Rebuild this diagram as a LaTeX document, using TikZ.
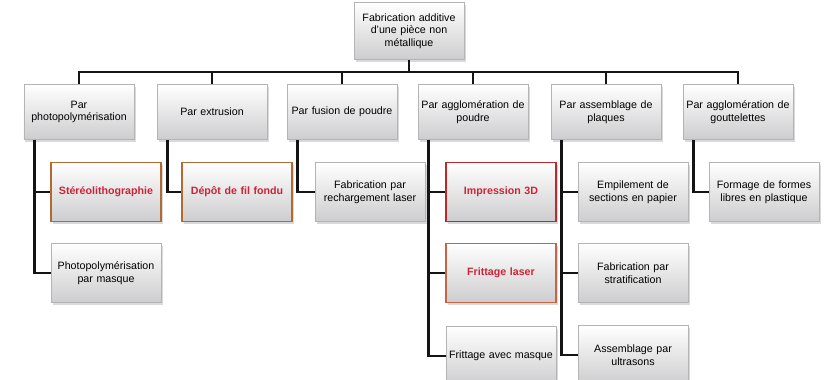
\documentclass[tikz,border=0pt]{standalone}
\usepackage{fontspec}
\setmainfont{Liberation Sans}
\usepackage{tikz}
\usetikzlibrary{positioning, shadows, calc}
\definecolor{myline}{RGB}{20,20,20}
\definecolor{myborder}{RGB}{180,180,180}
\definecolor{mybrown}{RGB}{176,106,50}
\definecolor{myred}{RGB}{190,40,45}
\definecolor{myorange}{RGB}{200,100,70}
\definecolor{mytext}{RGB}{205,35,55}
\definecolor{mygray}{RGB}{205,205,207}
\tikzset{
  block/.style={rectangle, draw=myborder, top color=white, bottom color=mygray,
    text width=104bp, align=center, minimum width=110bp, minimum height=57bp,
    inner xsep=3bp, font=\fontsize{10.7}{12.8}\selectfont, line width=0.6pt,
    drop shadow={shadow xshift=1.5bp, shadow yshift=-2bp, opacity=0.3}},
  hlblock/.style={block, draw=mybrown, line width=1.6pt, text=mytext,
    font=\fontsize{10.7}{12.8}\selectfont\bfseries},
  link/.style={line width=2.5bp, color=myline}
}

\begin{document}
\begin{tikzpicture}[x=1bp, y=-1bp]
  \clip (0,0) rectangle (825,379);

  % Root
  \node[block] (root) at (409,31) {Fabrication additive\\d’une pièce non\\métallique};

  % Level 1
  \node[block, minimum height=55bp] (photo) at (79,112) {Par\\photopolymérisation};
  \node[block, minimum height=55bp] (extr) at (212,112) {Par extrusion};
  \node[block, minimum height=55bp] (fusion) at (342,112) {Par fusion de poudre};
  \node[block, minimum height=55bp] (aggpoudre) at (473,112) {Par agglomération de\\poudre};
  \node[block, minimum height=55bp] (plaques) at (606,112) {Par assemblage de\\plaques};
  \node[block, minimum height=55bp] (gouttes) at (738,112) {Par agglomération de\\gouttelettes};

  % Level 2
  \node[hlblock, minimum height=59bp] (stereo) at (106,192) {Stéréolithographie};
  \node[block, minimum height=59bp] (pmasque) at (106,273) {Photopolymérisation\\par masque};
  \node[hlblock, minimum height=59bp] (depot) at (237,192) {Dépôt de fil fondu};
  \node[block, minimum height=59bp] (recharg) at (370,192) {Fabrication par\\rechargement laser};
  \node[hlblock, draw=myred, minimum height=59bp] (impr) at (501,192) {Impression 3D};
  \node[hlblock, draw=myorange, minimum height=59bp] (frlaser) at (501,273) {Frittage laser};
  \node[block, minimum height=59bp] (frmasque) at (501,356) {Frittage avec masque};
  \node[block, minimum height=59bp] (empil) at (633,192) {Empilement de\\sections en papier};
  \node[block, minimum height=59bp] (strat) at (633,273) {Fabrication par\\stratification};
  \node[block, minimum height=59bp] (ultra) at (633,355) {Assemblage par\\ultrasons};
  \node[block, minimum height=59bp] (formage) at (764,192) {Formage de formes\\libres en plastique};

  % Top bar
  \coordinate (bar) at (0,72);
  \draw[link] (root.south) -- (root.south |- bar);
  \draw[link] (photo.north) -- (photo.north |- bar) -- (gouttes.north |- bar) -- (gouttes.north);
  \foreach \n in {extr, fusion, aggpoudre, plaques}
    \draw[link] (\n.north) -- (\n.north |- bar);

  % Branches
  \foreach \p/\c in {photo/stereo, photo/pmasque, extr/depot, fusion/recharg,
      aggpoudre/impr, aggpoudre/frlaser, aggpoudre/frmasque,
      plaques/empil, plaques/strat, plaques/ultra, gouttes/formage}
    \draw[link] ([xshift=11bp]\p.south west) |- (\c.west);
\end{tikzpicture}
\end{document}
